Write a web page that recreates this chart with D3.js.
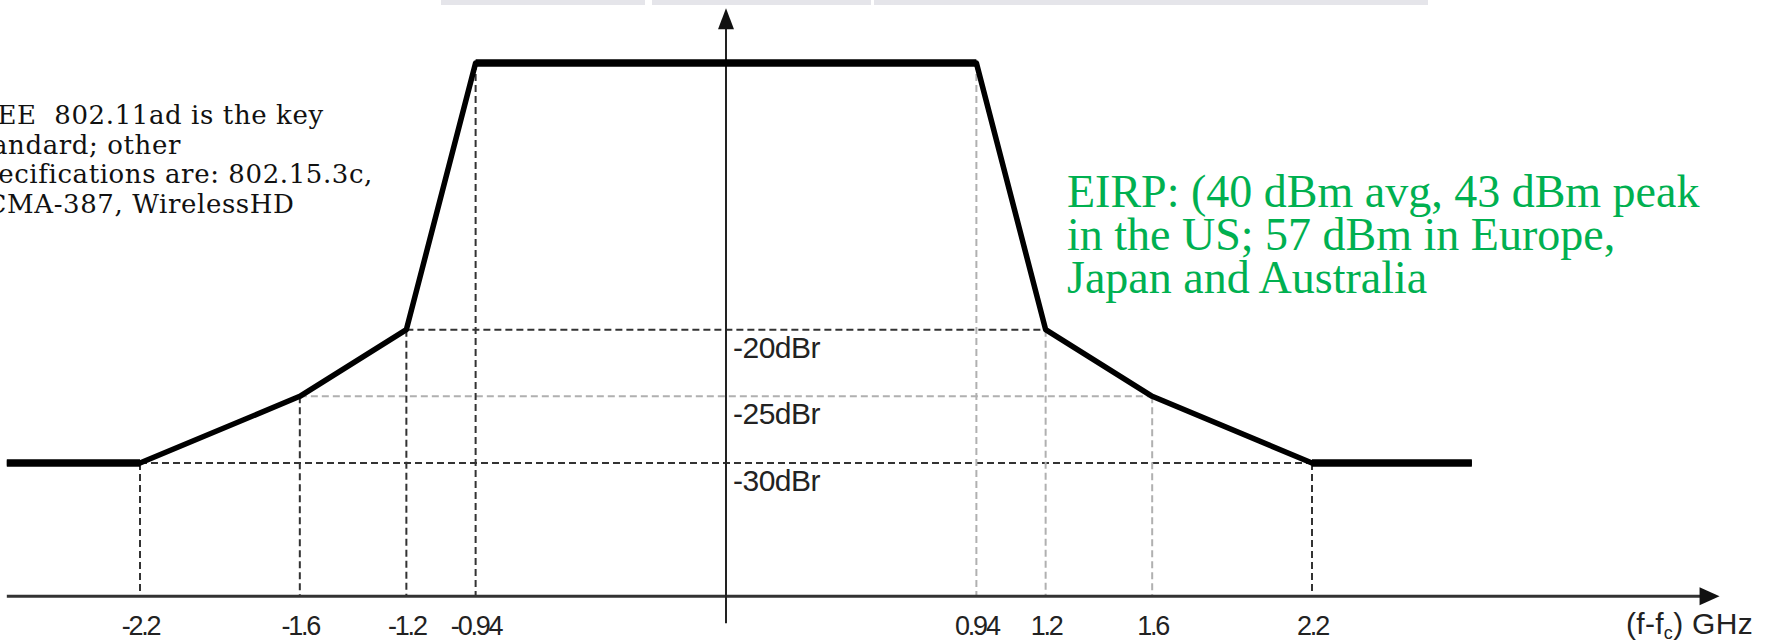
<!DOCTYPE html>
<html>
<head>
<meta charset="utf-8">
<script src="https://cdn.jsdelivr.net/npm/d3@7"></script>
<style>
  html, body { margin: 0; padding: 0; background: #fff; }
  svg { display: block; }
</style>
</head>
<body>
<svg id="chart" width="1773" height="642"></svg>
<script>
// ---- data ----
const maskFreq  = [-2.7, -2.2, -1.6, -1.2, -0.94, 0.94, 1.2, 1.6, 2.2, 2.8];
const maskLevel = [-30, -30, -25, -20, 0, 0, -20, -25, -30, -30];
const tickValues = [-2.2, -1.6, -1.2, -0.94, 0.94, 1.2, 1.6, 2.2];
const tickLabels = ["-2.2", "-1.6", "-1.2", "-0.94", "0.94", "1.2", "1.6", "2.2"];
const levelValues = [-20, -25, -30];
const levelLabels = ["-20dBr", "-25dBr", "-30dBr"];
const levelFrom = [-1.2, -1.6, -2.2];
const levelTo = [1.2, 1.6, 2.2];
const levelTone = ["dark", "light", "dark"];
const vGuideFreq = [-2.2, -1.6, -1.2, -0.94, 0.94, 1.2, 1.6, 2.2];
const vGuideTone = ["dark", "dark", "dark", "dark", "light", "light", "light", "dark"];
const axisFreqRange = [-2.7, 3.73];
const axisLevelBase = -40;
const axisLevelTop = 4.1;
const noteLines = ["IEEE  802.11ad is the key", "standard; other", "specifications are: 802.15.3c,", "ECMA-387, WirelessHD"];
const eirpLines = ["EIRP: (40 dBm avg, 43 dBm peak", "in the US; 57 dBm in Europe,", "Japan and Australia"];

// ---- scales ----
const svg = d3.select("#chart");
const x = d3.scaleLinear().domain([-2.2, 2.2]).range([140, 1312]);
const y = d3.scaleLinear().domain([-30, 0]).range([463, 63]);
const toneColor = { dark: "#333", light: "#b0b0b0" };
const sansFont = "'Liberation Sans', Arial, sans-serif";

// top grey bars (page artefact)
const bars = [[441, 204], [652, 219], [874, 554]];
svg.selectAll("rect.topbar").data(bars).join("rect")
  .attr("x", d => d[0]).attr("y", 0).attr("width", d => d[1]).attr("height", 5)
  .attr("fill", "#e5e5ea");

// horizontal guides
svg.selectAll("line.hguide").data(levelValues).join("line")
  .attr("x1", (d, i) => x(levelFrom[i])).attr("x2", (d, i) => x(levelTo[i]))
  .attr("y1", d => y(d)).attr("y2", d => y(d))
  .attr("stroke", (d, i) => toneColor[levelTone[i]])
  .attr("stroke-width", 2).attr("stroke-dasharray", "7,4");

// vertical guides
svg.selectAll("line.vguide").data(vGuideFreq).join("line")
  .attr("x1", d => x(d)).attr("x2", d => x(d))
  .attr("y1", d => y(maskLevel[maskFreq.indexOf(d)]))
  .attr("y2", y(axisLevelBase))
  .attr("stroke", (d, i) => toneColor[vGuideTone[i]])
  .attr("stroke-width", 2).attr("stroke-dasharray", "7,4");

// axes
svg.append("line")
  .attr("x1", x(axisFreqRange[0])).attr("x2", x(axisFreqRange[1]) - 14)
  .attr("y1", y(axisLevelBase)).attr("y2", y(axisLevelBase))
  .attr("stroke", "#333").attr("stroke-width", 3);
const ax = x(axisFreqRange[1]), ay = y(axisLevelBase);
svg.append("path")
  .attr("d", `M${ax},${ay} L${ax - 20},${ay - 9} L${ax - 20},${ay + 9} Z`)
  .attr("fill", "#111");

const x0 = x(0);
svg.append("line")
  .attr("x1", x0).attr("x2", x0)
  .attr("y1", y(axisLevelTop) + 14).attr("y2", y(axisLevelBase) + 27)
  .attr("stroke", "#222").attr("stroke-width", 2);
const ty = y(axisLevelTop);
svg.append("path")
  .attr("d", `M${x0},${ty} L${x0 - 8},${ty + 21} L${x0 + 8},${ty + 21} Z`)
  .attr("fill", "#111");

// mask line
const pts = maskFreq.map((f, i) => [x(f), y(maskLevel[i])]);
svg.append("path")
  .attr("d", d3.line()(pts))
  .attr("fill", "none").attr("stroke", "#000").attr("stroke-width", 5.5)
  .attr("stroke-linejoin", "round");
const flatIdx = [[0, 1], [4, 5], [8, 9]];
svg.selectAll("line.flat").data(flatIdx).join("line")
  .attr("x1", d => pts[d[0]][0]).attr("x2", d => pts[d[1]][0])
  .attr("y1", d => pts[d[0]][1]).attr("y2", d => pts[d[1]][1])
  .attr("stroke", "#000").attr("stroke-width", 7.5);

// x tick labels via d3 axis
const xAxis = d3.axisBottom(x).tickValues(tickValues)
  .tickFormat((d, i) => tickLabels[i]).tickSize(0).tickPadding(0);
const gx = svg.append("g").attr("transform", `translate(0,${y(axisLevelBase)})`).call(xAxis);
gx.select(".domain").remove();
gx.selectAll("text")
  .attr("y", 39).attr("dy", 0)
  .attr("font-family", sansFont)
  .attr("font-size", 27).attr("letter-spacing", -2.2)
  .attr("fill", "#222");

// axis title
const at = svg.append("text")
  .attr("x", 1626).attr("y", y(axisLevelBase) + 38)
  .attr("font-family", sansFont)
  .attr("font-size", 30).attr("letter-spacing", 0.3).attr("fill", "#222");
at.append("tspan").text("(f-f");
at.append("tspan").attr("font-size", 18).attr("dy", 5).text("c");
at.append("tspan").attr("dy", -5).text(") GHz");

// level labels
svg.selectAll("text.level").data(levelValues).join("text")
  .attr("x", x0 + 7).attr("y", d => y(d) + 28)
  .attr("font-family", sansFont)
  .attr("font-size", 30).attr("letter-spacing", -0.5).attr("fill", "#222")
  .text((d, i) => levelLabels[i]);

// left note (its left part is cut by the picture edge)
svg.append("g").selectAll("text").data(noteLines).join("text")
  .attr("x", -33)
  .attr("y", (d, i) => 124 + i * 29.5)
  .attr("font-family", "'DejaVu Serif', 'Liberation Serif', serif")
  .attr("font-size", 26).attr("letter-spacing", 0.6).attr("fill", "#111")
  .style("white-space", "pre")
  .text(d => d);

// green EIRP note
svg.selectAll("text.eirp").data(eirpLines).join("text")
  .attr("x", 1067).attr("y", (d, i) => 207 + i * 43)
  .attr("font-family", "'Liberation Serif', 'DejaVu Serif', serif")
  .attr("font-size", 46).attr("fill", "#00b050")
  .text(d => d);
</script>
</body>
</html>
